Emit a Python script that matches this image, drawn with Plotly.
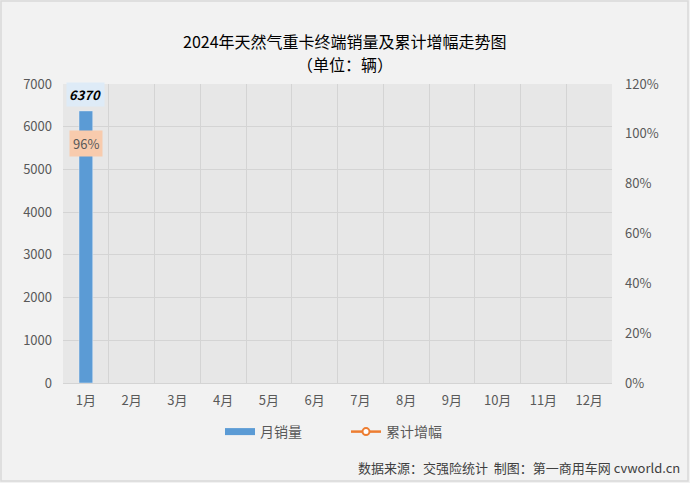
import plotly.graph_objects as go

months = ["1月", "2月", "3月", "4月", "5月", "6月", "7月", "8月", "9月", "10月", "11月", "12月"]
monthly_sales = [6370] + [None] * 11
cum_growth = [0.96] + [None] * 11

title_line1 = "2024年天然气重卡终端销量及累计增幅走势图"
title_line2 = "（单位：辆）"
source_text = "数据来源：交强险统计  制图：第一商用车网 cvworld.cn"

FONT = "Noto Sans CJK SC"
TICK = "#595959"
BLUE = "#5b9bd5"
ORANGE = "#ed7d31"
L, R, T, B = 63, 612, 84, 383
PW, PH = R - L, B - T

def px(x):
    return (x - L) / PW

def py(y):
    return (B - y) / PH

fig = go.Figure()
fig.add_trace(go.Bar(
    x=months, y=monthly_sales, name="月销量", showlegend=False,
    marker=dict(color=BLUE), width=0.3,
))
# legend proxy for the bar series (wide flat swatch like the original)
fig.add_trace(go.Scatter(
    x=[None], y=[None], name="月销量", mode="lines",
    line=dict(color=BLUE, width=7), hoverinfo="skip",
))
fig.add_trace(go.Scatter(
    x=months, y=cum_growth, name="累计增幅", yaxis="y2",
    mode="lines+markers",
    line=dict(color=ORANGE, width=2.5),
    marker=dict(symbol="circle", size=7, color="white", line=dict(color=ORANGE, width=2)),
))

for m, v in zip(months, monthly_sales):
    if v is not None:
        fig.add_annotation(x=m, y=v, xref="x", yref="y", text=f"<b><i>{v}</i></b>",
                           showarrow=False, yanchor="bottom", yshift=4,
                           bgcolor="#deebf7", font=dict(family=FONT, size=13, color="#000000"),
                           borderpad=2)
for m, v in zip(months, cum_growth):
    if v is not None:
        fig.add_annotation(x=m, y=v, xref="x", yref="y2", text=f"{v*100:.0f}%",
                           showarrow=False, bgcolor="#f8cbad",
                           font=dict(family=FONT, size=13, color=TICK), borderpad=3)

fig.add_annotation(x=px(345), y=py(41), xref="paper", yref="paper", text=title_line1,
                   showarrow=False, xanchor="center", yanchor="middle",
                   font=dict(family=FONT, size=16, color="#000000"))
fig.add_annotation(x=px(345), y=py(64), xref="paper", yref="paper", text=title_line2,
                   showarrow=False, xanchor="center", yanchor="middle",
                   font=dict(family=FONT, size=16, color="#000000"))
fig.add_annotation(x=px(682), y=py(467), xref="paper", yref="paper", xanchor="right",
                   yanchor="middle", text=source_text, showarrow=False,
                   font=dict(family=FONT, size=13, color="#404040"))

fig.add_shape(type="rect", xref="paper", yref="paper", x0=px(1), x1=px(688),
              y0=py(481), y1=py(1), line=dict(color="#d9d9d9", width=1.5),
              fillcolor="rgba(0,0,0,0)", layer="below")

fig.update_layout(
    width=690, height=483,
    margin=dict(l=L, r=690 - R, t=T, b=483 - B, autoexpand=False),
    paper_bgcolor="#f2f2f2", plot_bgcolor="#e7e7e7",
    font=dict(family=FONT, size=13, color=TICK),
    xaxis=dict(type="category", tickson="boundaries", showgrid=True, gridcolor="#d4d4d4",
               gridwidth=1, ticks="", showline=True, linecolor="#d4d4d4", automargin=False,
               tickfont=dict(size=13, color=TICK), range=[-0.5, 11.5], ticklabelstandoff=5),
    yaxis=dict(range=[0, 7000], dtick=1000, showgrid=True, gridcolor="#d4d4d4",
               zeroline=False, tickfont=dict(size=13, color=TICK), automargin=False,
               ticklabelstandoff=10),
    yaxis2=dict(range=[0, 1.2], dtick=0.2, tickformat=".0%", overlaying="y", side="right",
                showgrid=False, zeroline=False, tickfont=dict(size=13, color=TICK),
                automargin=False, ticklabelstandoff=12),
    legend=dict(orientation="h", x=px(220), xanchor="left", y=py(432), yanchor="middle",
                font=dict(family=FONT, size=14, color=TICK), bgcolor="rgba(0,0,0,0)",
                entrywidth=81, entrywidthmode="pixels", itemwidth=30),
    showlegend=True,
)

fig.write_html("out.html", config={"displayModeBar": False},
               post_script="document.body.style.margin='0';document.body.style.overflow='hidden';")
